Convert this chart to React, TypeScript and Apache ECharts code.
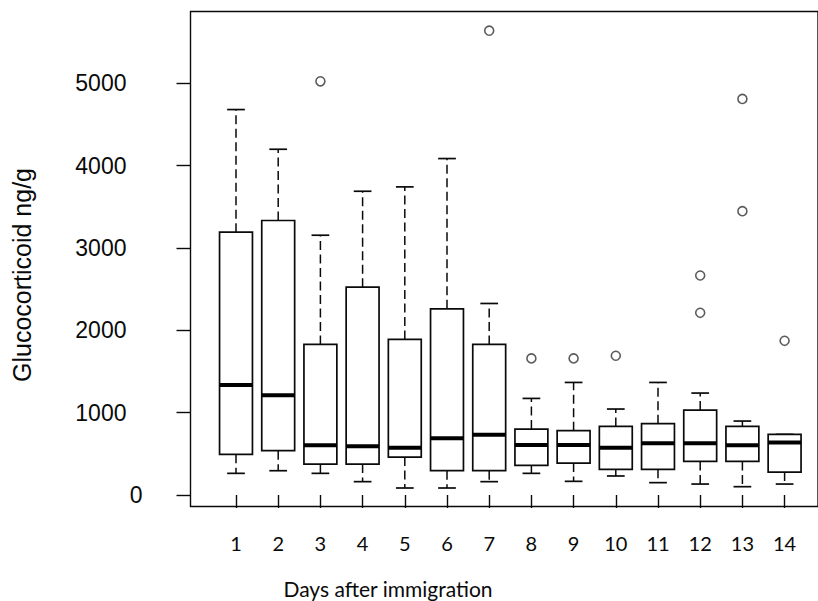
import React, { useEffect, useRef } from "react";
import * as echarts from "echarts";

const days = ["1", "2", "3", "4", "5", "6", "7", "8", "9", "10", "11", "12", "13", "14"];
const lowerWhisker = [263, 295, 263, 162, 85, 85, 162, 263, 166, 231, 150, 133, 101, 133];
const q1 = [494, 538, 376, 376, 461, 295, 295, 360, 388, 312, 312, 408, 408, 279];
const median = [1335, 1210, 603, 591, 574, 688, 732, 607, 607, 574, 627, 627, 603, 639];
const q3 = [3192, 3334, 1829, 2524, 1889, 2261, 1829, 801, 781, 833, 866, 1032, 833, 736];
const upperWhisker = [4681, 4199, 3155, 3689, 3742, 4086, 2326, 1173, 1367, 1044, 1367, 1238, 898, 736];
const outlierDays = ["3", "7", "8", "9", "10", "12", "12", "13", "13", "14"];
const outlierValues = [5024, 5639, 1659, 1659, 1691, 2666, 2213, 4810, 3447, 1873];
const yTicks = [0, 1000, 2000, 3000, 4000, 5000];

const INK = "#0a0a0a";

export default function App() {
  const ref = useRef<HTMLDivElement>(null);
  useEffect(() => {
    if (!ref.current) return;
    const chart = echarts.init(ref.current, undefined, { renderer: "svg" });
    const boxData = days.map((_, i) => [i, lowerWhisker[i], q1[i], median[i], q3[i], upperWhisker[i]]);
    const outData = outlierDays.map((d, i) => [d, outlierValues[i]]);
    const yMin = yTicks[0];
    const yMax = yTicks[yTicks.length - 1];
    const option: any = {
      animation: false,
      backgroundColor: "#fff",
      grid: [
        { left: 190.5, top: 11.5, right: -40, bottom: 94.5, show: true, borderColor: INK, borderWidth: 1.4, backgroundColor: "transparent" },
        { left: 214.9, right: 12.3, top: 83.3, bottom: 106 },
      ],
      xAxis: [
        { gridIndex: 0, type: "value", show: false, min: 0, max: 1 },
        {
          gridIndex: 1,
          type: "category",
          data: days,
          offset: 11.5,
          axisLine: { show: false },
          axisTick: { show: true, alignWithLabel: true, length: 13, lineStyle: { color: INK, width: 1.4 } },
          axisLabel: { fontFamily: "Lato", fontSize: 20, color: INK, margin: 26 },
          splitLine: { show: false },
        },
      ],
      yAxis: [
        { gridIndex: 0, type: "value", show: false, min: 0, max: 1 },
        {
          gridIndex: 1,
          type: "value",
          min: yMin,
          max: yMax,
          interval: 1000,
          position: "left",
          offset: 24.4,
          axisLine: { show: false },
          axisTick: { show: true, length: 14, lineStyle: { color: INK, width: 1.4 } },
          axisLabel: {
            fontFamily: "Liberation Sans",
            fontSize: 23,
            color: INK,
            margin: 64,
            formatter: (v: number) => (v === 0 ? "" : String(v)),
          },
          splitLine: { show: false },
        },
        {
          gridIndex: 1,
          type: "value",
          min: yMin,
          max: yMax,
          interval: 1000,
          position: "left",
          offset: 24.4,
          axisLine: { show: false },
          axisTick: { show: false },
          axisLabel: {
            fontFamily: "Liberation Sans",
            fontSize: 23,
            color: INK,
            margin: 48,
            formatter: (v: number) => (v === 0 ? "0" : ""),
          },
          splitLine: { show: false },
        },
      ],
      series: [
        {
          type: "custom",
          xAxisIndex: 1,
          yAxisIndex: 1,
          clip: false,
          data: boxData,
          encode: { x: 0, y: [1, 2, 3, 4, 5] },
          renderItem: (params: any, api: any) => {
            const idx = api.value(0);
            const pLo = api.coord([idx, api.value(1)]);
            const pQ1 = api.coord([idx, api.value(2)]);
            const pMed = api.coord([idx, api.value(3)]);
            const pQ3 = api.coord([idx, api.value(4)]);
            const pHi = api.coord([idx, api.value(5)]);
            const band = api.size([1, 0])[0];
            const half = band * 0.39;
            const capHalf = band * 0.21;
            const cx = pMed[0];
            const dashed = { stroke: INK, lineWidth: 1.5, lineDash: [9, 4.5] };
            const solid = { stroke: INK, lineWidth: 1.7 };
            return {
              type: "group",
              children: [
                { type: "line", shape: { x1: cx, y1: pQ3[1], x2: cx, y2: pHi[1] }, style: dashed },
                { type: "line", shape: { x1: cx, y1: pQ1[1], x2: cx, y2: pLo[1] }, style: dashed },
                { type: "line", shape: { x1: cx - capHalf, y1: pHi[1], x2: cx + capHalf, y2: pHi[1] }, style: solid },
                { type: "line", shape: { x1: cx - capHalf, y1: pLo[1], x2: cx + capHalf, y2: pLo[1] }, style: solid },
                {
                  type: "rect",
                  shape: { x: cx - half, y: pQ3[1], width: half * 2, height: pQ1[1] - pQ3[1] },
                  style: { fill: "#fff", stroke: INK, lineWidth: 1.7 },
                },
                { type: "line", shape: { x1: cx - half, y1: pMed[1], x2: cx + half, y2: pMed[1] }, style: { stroke: "#000", lineWidth: 4 } },
              ],
            };
          },
        },
        {
          type: "scatter",
          xAxisIndex: 1,
          yAxisIndex: 1,
          clip: false,
          data: outData,
          symbol: "circle",
          symbolSize: 9,
          itemStyle: { color: "#fff", borderColor: "#333", borderWidth: 1.6 },
        },
      ],
      graphic: [
        {
          type: "text",
          x: 388,
          y: 588,
          style: {
            text: "Days after immigration",
            font: "21px Lato",
            fill: INK,
            textAlign: "center",
            align: "center",
            textVerticalAlign: "middle",
            verticalAlign: "middle",
          },
        },
        {
          type: "text",
          x: 22,
          y: 275,
          rotation: Math.PI / 2,
          style: {
            text: "Glucocorticoid ng/g",
            font: "25px 'Liberation Sans'",
            fill: INK,
            textAlign: "center",
            align: "center",
            textVerticalAlign: "middle",
            verticalAlign: "middle",
          },
        },
      ],
    };
    chart.setOption(option);
    return () => chart.dispose();
  }, []);
  return <div ref={ref} style={{ position: "fixed", left: 0, top: 0, width: 818, height: 601, background: "#fff" }} />;
}
